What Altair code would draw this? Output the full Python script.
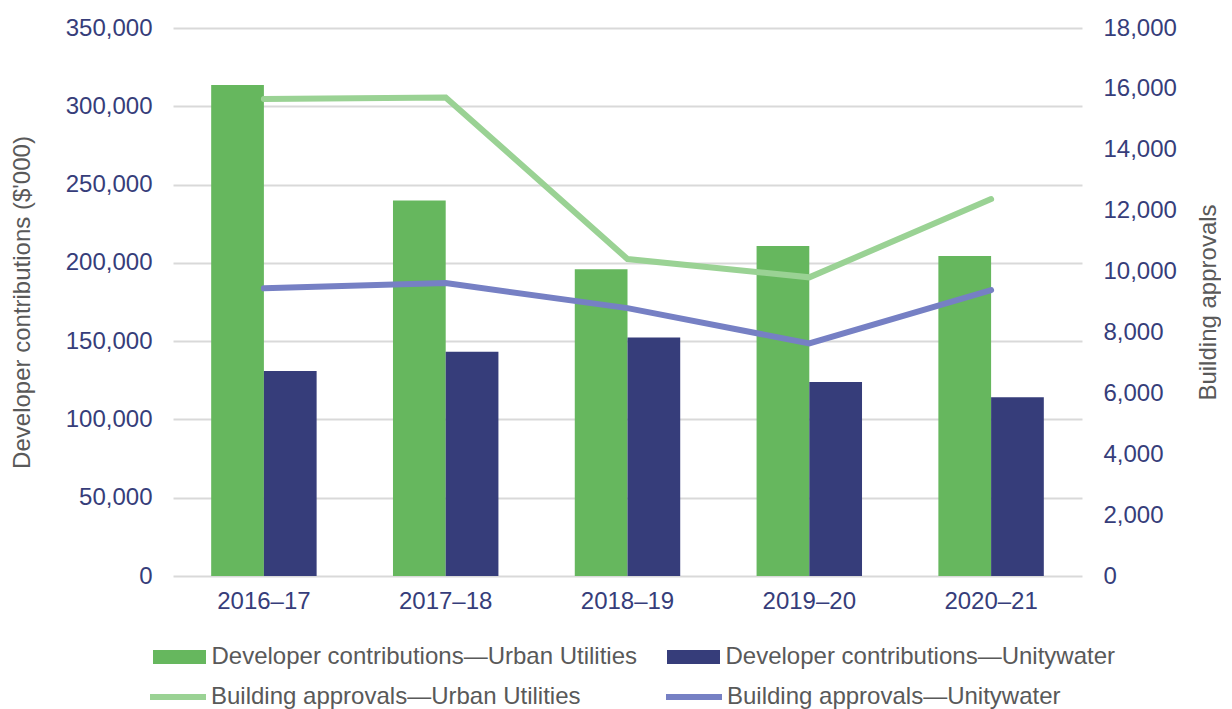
import altair as alt
import pandas as pd

years = ["2016–17", "2017–18", "2018–19", "2019–20", "2020–21"]

bar_series = ["Developer contributions—Urban Utilities", "Developer contributions—Unitywater"]
contrib_urban = [313600, 239800, 195900, 210700, 204400]
contrib_unity = [131000, 143300, 152400, 123900, 114100]

line_series = ["Building approvals—Urban Utilities", "Building approvals—Unitywater"]
approvals_urban = [15670, 15720, 10410, 9810, 12380]
approvals_unity = [9450, 9620, 8800, 7640, 9390]

left_ticks = [0, 50000, 100000, 150000, 200000, 250000, 300000, 350000]
right_ticks = [0, 2000, 4000, 6000, 8000, 10000, 12000, 14000, 16000, 18000]

bar_colors = ["#66B75E", "#363D7A"]
line_colors = ["#9AD294", "#7680C4"]
label_navy = "#363D7A"
grey_text = "#595959"
grid_grey = "#D9D9D9"
fs = 24

bars_df = pd.DataFrame(
    [{"year": y, "bar_series": bar_series[0], "value": v} for y, v in zip(years, contrib_urban)]
    + [{"year": y, "bar_series": bar_series[1], "value": v} for y, v in zip(years, contrib_unity)]
)
lines_df = pd.DataFrame(
    [{"year": y, "line_series": line_series[0], "approvals": v} for y, v in zip(years, approvals_urban)]
    + [{"year": y, "line_series": line_series[1], "approvals": v} for y, v in zip(years, approvals_unity)]
)

x_enc = alt.X(
    "year:N",
    sort=years,
    title=None,
    scale=alt.Scale(paddingInner=0.42, paddingOuter=0.21),
    axis=alt.Axis(labelAngle=0, domain=False, ticks=False, labelPadding=13,
                  labelFontSize=fs, labelColor=label_navy),
)

bars = alt.Chart(bars_df).mark_bar().encode(
    x=x_enc,
    xOffset=alt.XOffset("bar_series:N", sort=bar_series, scale=alt.Scale(paddingInner=0, paddingOuter=0)),
    y=alt.Y(
        "value:Q",
        scale=alt.Scale(domain=[0, 350000], nice=False),
        axis=alt.Axis(
            title="Developer contributions ($'000)", values=left_ticks, format=",.0f",
            grid=True, gridColor=grid_grey, gridWidth=2, domain=False, ticks=False,
            labelPadding=21, labelFontSize=fs, labelColor=label_navy,
            titleFontSize=fs, titleColor=grey_text, titleFontWeight="normal", titlePadding=31,
        ),
    ),
    color=alt.Color(
        "bar_series:N",
        scale=alt.Scale(domain=bar_series, range=bar_colors),
        legend=alt.Legend(
            title=None, orient="none", legendX=-5.5, legendY=617, direction="horizontal",
            symbolType="M-2.65,-0.7H2.65V0.7H-2.65Z", symbolSize=400, symbolStrokeWidth=0,
            labelOffset=20, columnPadding=29, labelFontSize=fs, labelColor=grey_text,
            labelLimit=1000, padding=0,
        ),
    ),
)

lines = alt.Chart(lines_df).mark_line(strokeWidth=6, strokeCap="round").encode(
    x=x_enc,
    y=alt.Y(
        "approvals:Q",
        scale=alt.Scale(domain=[0, 18000], nice=False),
        axis=alt.Axis(
            orient="right", title="Building approvals", values=right_ticks, format=",.0f",
            grid=False, domain=False, ticks=False, labelPadding=21,
            labelFontSize=fs, labelColor=label_navy, titleAngle=270,
            titleFontSize=fs, titleColor=grey_text, titleFontWeight="normal", titlePadding=44,
        ),
    ),
    stroke=alt.Stroke(
        "line_series:N",
        scale=alt.Scale(domain=line_series, range=line_colors),
        legend=alt.Legend(
            title=None, orient="none", legendX=-8, legendY=656, direction="horizontal",
            symbolType="M-2.8,0H2.8", symbolSize=400, symbolStrokeWidth=6,
            labelOffset=20, columnPadding=73, labelFontSize=fs, labelColor=grey_text,
            labelLimit=1000, padding=0,
        ),
    ),
)

chart = (
    alt.layer(bars, lines)
    .resolve_scale(y="independent", color="independent", stroke="independent")
    .properties(width=909, height=548, padding={"left": 2, "top": 8, "right": 0, "bottom": 0})
    .configure(font="Liberation Sans")
    .configure_view(stroke=None)
)

chart.save("out.html", embed_options={"renderer": "svg", "actions": False})
